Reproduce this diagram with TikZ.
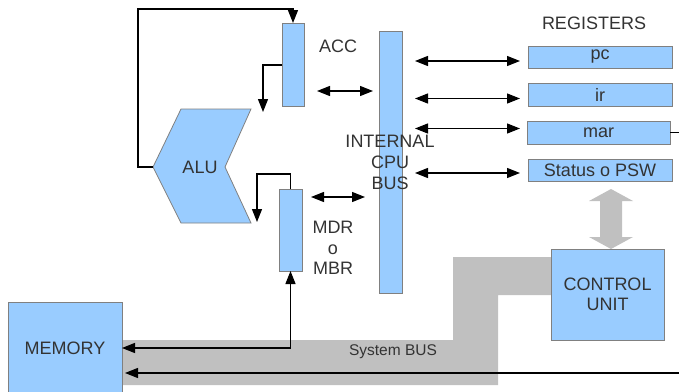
\documentclass[tikz,border=0pt]{standalone}
\usepackage{fontspec}
\setmainfont{Liberation Sans}
\usetikzlibrary{arrows.meta,calc}
\definecolor{boxblue}{HTML}{99CCFF}
\definecolor{boxline}{HTML}{808080}
\definecolor{busgray}{HTML}{C0C0C0}
\definecolor{txt}{HTML}{333333}
\begin{document}
\begin{tikzpicture}[x=1pt,y=-1pt,
  blk/.style={draw=boxline, fill=boxblue, line width=0.8pt, anchor=north west, inner sep=0pt, outer sep=0pt, text=txt, align=center, font=\fontsize{18}{20.5}\selectfont},
  lbl/.style={text=txt, font=\fontsize{18}{20.8}\selectfont, align=center, inner sep=0pt},
  arr/.style={line width=1.2pt, -{Triangle[length=13pt,width=10pt]}},
  dbl/.style={line width=1.2pt, {Triangle[length=13pt,width=10pt]}-{Triangle[length=13pt,width=10pt]}},
  ln/.style={line width=1.2pt}]
\useasboundingbox (0,0) rectangle (679,391);
% system bus (grey band)
\fill[busgray] (122,340) -- (453,340) -- (453,257) -- (551,257) -- (551,295) -- (498,295) -- (498,385) -- (122,385) -- cycle;
\node[text=txt, font=\fontsize{15.5}{18}\selectfont, inner sep=0pt] (sysbus) at (393,352) {System BUS};
% blocks
\node[blk, minimum width=22pt, minimum height=83pt] (acc) at (282,23) {};
\node[blk, minimum width=23pt, minimum height=82pt] (mdr) at (279,189) {};
\node[blk, minimum width=23pt, minimum height=262pt] (bus) at (379,31) {};
\node[blk, minimum width=144pt, minimum height=22pt] (pc) at (528,46) {pc};
\node[blk, minimum width=144pt, minimum height=23pt] (ir) at (528,83) {ir};
\node[blk, minimum width=143pt, minimum height=23pt] (mar) at (527,121) {mar};
\node[blk, minimum width=144pt, minimum height=22pt] (psw) at (528,159) {Status o PSW};
\node[blk, minimum width=113pt, minimum height=91pt] (cu) at (551,249) {CONTROL\\UNIT};
\node[blk, minimum width=114pt, minimum height=92pt] (mem) at (8,302) {MEMORY};
% ALU
\filldraw[fill=boxblue, draw=boxline, line width=0.8pt] (153,167) coordinate (alutip) -- (181,109) -- (251,109) -- (225,167) -- (251,223) -- (181,223) -- cycle;
\node[lbl] (alu) at (200,167) {ALU};
% labels
\node[lbl] (acclbl) at (338,46) {ACC};
\node[lbl] (reglbl) at (594,23) {REGISTERS};
\node[lbl] (buslbl) at (390,162.5) {INTERNAL\\CPU\\BUS};
\node[lbl] (mdrlbl) at (333,248) {MDR\\o\\MBR};
% grey double arrow between status and control unit
\coordinate (ga) at ($(cu.north)+(3.5,-60)$);
\coordinate (gb) at ($(cu.north)+(3.5,0)$);
\fill[busgray] (ga) -- ++(22,12) -- ++(-11,0) -- ($(gb)+(11,-12)$) -- ++(11,0) -- (gb) -- ++(-22,-12) -- ++(11,0) -- ($(ga)+(-11,12)$) -- ++(-11,0) -- cycle;
% connectors
\draw[arr] (alutip) -- ++(-15,0) |- ($(acc.north)+(0,-14)$) -- (acc.north);
\draw[arr] ($(acc.north west)+(0,42)$) -| (263,112);
\draw[arr] (mdr.north) -- ++(0,-15) -| (257,222);
\draw[dbl] ($(bus.north west)+(-62,60)$) -- ($(bus.north west)+(-6,60)$);
\draw[dbl] ($(bus.north west)+(-68,166)$) -- ($(bus.north west)+(-14,166)$);
\draw[dbl] ($(bus.east |- pc.west)+(13,4)$) -- ($(pc.west)+(-8,4)$);
\draw[dbl] ($(bus.east |- ir.west)+(13,4)$) -- ($(ir.west)+(-8,4)$);
\draw[dbl] ($(bus.east |- mar.west)+(13,-4)$) -- ($(mar.west)+(-7,-4)$);
\draw[dbl] ($(bus.east |- psw.west)+(13,3)$) -- ($(psw.west)+(-8,3)$);
\draw[dbl] (mdr.south) |- (mem.east);
\draw[ln] (mar.east) -- ++(14,0) coordinate (marout);
\coordinate (retin) at (684,373);
\draw[arr, shorten >=3pt] (retin) -- (retin -| mem.east);
\end{tikzpicture}
\end{document}
